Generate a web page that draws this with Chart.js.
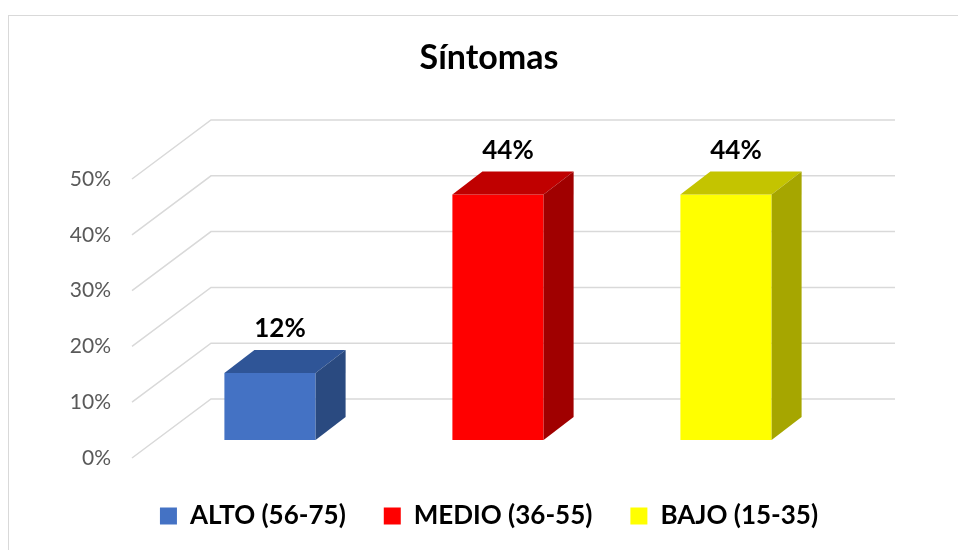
<!DOCTYPE html>
<html>
<head>
<meta charset="utf-8">
<script src="https://cdn.jsdelivr.net/npm/chart.js@4.4.1/dist/chart.umd.min.js"></script>
<style>
  html, body { margin: 0; padding: 0; background: #fff; overflow: hidden; }
  #frame { position: absolute; left: 8px; top: 15px; width: 1000px; height: 600px;
           border-left: 1px solid #d9d9d9; border-top: 1px solid #d9d9d9; }
  #sintomasChart { position: absolute; left: 9px; top: 16px; }
</style>
</head>
<body>
<div id="frame"></div>
<canvas id="sintomasChart" width="960" height="534"></canvas>
<script>
// Data
const categories = ['ALTO (56-75)', 'MEDIO (36-55)', 'BAJO (15-35)'];
const values = [12, 44, 44];
const yTicks = [0, 10, 20, 30, 40, 50];

// Colours for the three faces of each bar
const frontColors = ['#4472C4', '#FF0000', '#FFFF00'];
const topColors = ['#2F5597', '#C00000', '#C4C400'];
const sideColors = ['#2A4A80', '#A00000', '#A6A600'];

// 3D look: bar depth and floor/back wall offsets from the bar face plane
const depth = { dx: 30, dy: -23 };
const floor = { frontX: -24, frontY: 18, backX: 55, backY: -41 };

const font = 'Lato';

// one dataset per category so the legend shows each colour
const datasets = categories.map((c, i) => ({
    label: c,
    data: categories.map((_, j) => (j === i ? values[i] : null)),
    backgroundColor: frontColors[i],
    borderWidth: 0
}));

// slanted floor lines and back wall grid
const gridPlugin = {
    id: 'grid3d',
    beforeDatasetsDraw(chart) {
        const { ctx, chartArea } = chart;
        const y = chart.scales.y;
        ctx.save();
        ctx.strokeStyle = '#d9d9d9';
        ctx.lineWidth = 1.5;
        y.ticks.forEach(t => {
            const py = y.getPixelForValue(t.value);
            ctx.beginPath();
            ctx.moveTo(chartArea.left + floor.frontX, py + floor.frontY);
            ctx.lineTo(chartArea.left + floor.backX, py + floor.backY);
            ctx.lineTo(chartArea.right + floor.backX, py + floor.backY);
            ctx.stroke();
        });
        ctx.restore();
    }
};

// top and side faces, then the value labels
const barsPlugin = {
    id: 'bars3d',
    afterDatasetsDraw(chart) {
        const { ctx } = chart;
        ctx.save();
        chart.data.datasets.forEach((ds, i) => {
            const meta = chart.getDatasetMeta(i);
            meta.data.forEach((bar, j) => {
                if (ds.data[j] === null) return;
                const { x, y, base, width } = bar.getProps(['x', 'y', 'base', 'width'], true);
                const l = x - width / 2, r = x + width / 2;
                ctx.fillStyle = topColors[i];
                ctx.beginPath();
                ctx.moveTo(l, y);
                ctx.lineTo(l + depth.dx, y + depth.dy);
                ctx.lineTo(r + depth.dx, y + depth.dy);
                ctx.lineTo(r, y);
                ctx.closePath();
                ctx.fill();
                ctx.fillStyle = sideColors[i];
                ctx.beginPath();
                ctx.moveTo(r, y);
                ctx.lineTo(r + depth.dx, y + depth.dy);
                ctx.lineTo(r + depth.dx, base + depth.dy);
                ctx.lineTo(r, base);
                ctx.closePath();
                ctx.fill();

                ctx.fillStyle = '#000';
                ctx.font = 'bold 26px ' + font;
                ctx.textAlign = 'center';
                ctx.textBaseline = 'middle';
                ctx.fillText(ds.data[j] + '%', x + 10, y - 44);
            });
        });
        ctx.restore();
    }
};

new Chart(document.getElementById('sintomasChart'), {
    type: 'bar',
    data: { labels: categories, datasets: datasets },
    options: {
        responsive: false,
        animation: false,
        layout: { padding: { left: 0, right: 0, top: 0, bottom: 11 } },
        scales: {
            x: {
                stacked: true,
                grid: { display: false },
                border: { display: false },
                ticks: { display: false },
                afterFit: s => { s.height = 25; }
            },
            y: {
                stacked: true,
                min: 0,
                max: 50,
                afterBuildTicks: s => { s.ticks = yTicks.map(v => ({ value: v })); },
                grid: { display: false, drawTicks: false },
                border: { display: false },
                ticks: {
                    padding: 45,
                    labelOffset: 18,
                    color: '#595959',
                    font: { family: font, size: 21 },
                    callback: v => v + '%'
                },
                afterFit: s => { s.width = 147; }
            },
            // empty right axis keeps room for the back wall without shifting title/legend
            yRight: {
                position: 'right',
                display: true,
                grid: { display: false, drawTicks: false },
                border: { display: false },
                ticks: { display: false },
                afterFit: s => { s.width = 129; }
            }
        },
        datasets: { bar: { barPercentage: 0.5, categoryPercentage: 0.8 } },
        plugins: {
            title: {
                display: true,
                text: 'Síntomas',
                color: '#000',
                font: { family: font, size: 34, weight: 'bold' },
                padding: { top: 21.6, bottom: 82.6 }
            },
            legend: {
                position: 'bottom',
                labels: {
                    color: '#000',
                    font: { family: font, size: 26, weight: 'bold' },
                    boxWidth: 17,
                    boxHeight: 17,
                    padding: 38
                }
            },
            tooltip: { enabled: false }
        }
    },
    plugins: [gridPlugin, barsPlugin]
});
</script>
</body>
</html>
